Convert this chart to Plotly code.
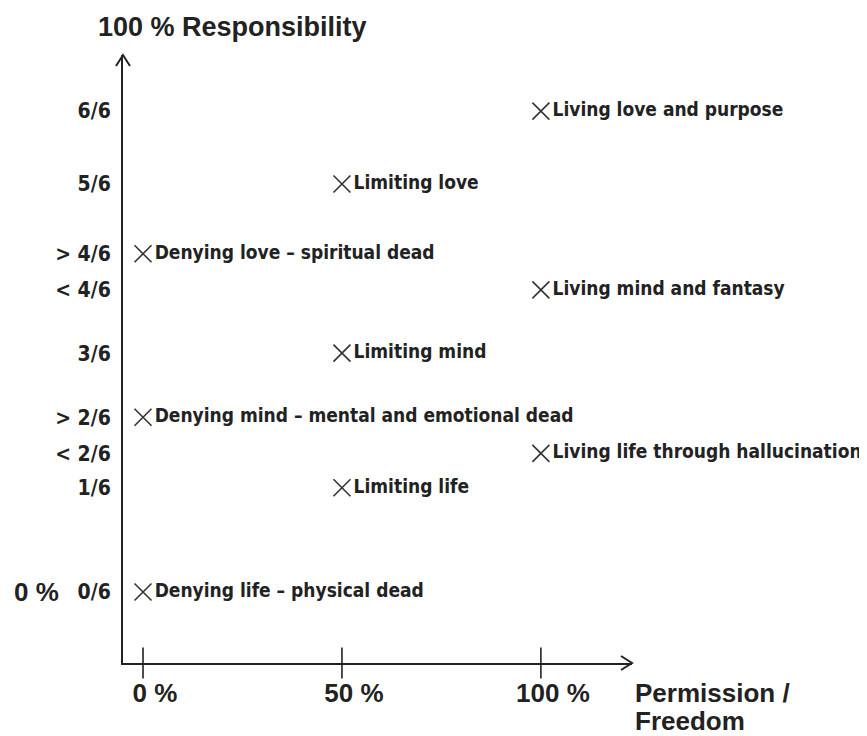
import plotly.graph_objects as go

# Data
x_levels = [0, 50, 100]
x_tick_labels = ["0 %", "50 %", "100 %"]
y_positions = [0.0, 1.30, 1.73, 2.18, 2.98, 3.77, 4.22, 5.09, 6.0]
y_tick_labels = ["0/6", "1/6", "< 2/6", "> 2/6", "3/6", "< 4/6", "> 4/6", "5/6", "6/6"]

point_x = [0, 50, 100, 0, 50, 100, 0, 50, 100]
point_y = [0.0, 1.30, 1.73, 2.18, 2.98, 3.77, 4.22, 5.09, 6.0]
point_labels = [
    "Denying life \u2013 physical dead",
    "Limiting life",
    "Living life through hallucination",
    "Denying mind \u2013 mental and emotional dead",
    "Limiting mind",
    "Living mind and fantasy",
    "Denying love \u2013 spiritual dead",
    "Limiting love",
    "Living love and purpose",
]

X_RANGE = [-5.03, 122.9]
Y_RANGE = [-0.886, 6.70]

NARROW = "DejaVu Sans Condensed, DejaVu Sans, sans-serif"
SANS = "Liberation Sans, Arial, sans-serif"
INK = "#222222"

fig = go.Figure()

fig.add_trace(go.Scatter(
    x=point_x, y=point_y, mode="markers+text",
    text=point_labels, textposition="middle right",
    textfont=dict(family=NARROW, size=19, color=INK, weight="bold"),
    marker=dict(symbol="x-thin", size=17, line=dict(width=1.6, color="#333333")),
    hoverinfo="skip", showlegend=False, cliponaxis=False,
))

# tick marks crossing the x axis
fig.add_trace(go.Scatter(
    x=x_levels, y=[Y_RANGE[0]] * len(x_levels), mode="markers",
    marker=dict(symbol="line-ns", size=22, line=dict(width=1.6, color=INK)),
    hoverinfo="skip", showlegend=False, cliponaxis=False,
))

fig.update_layout(
    width=867, height=736,
    margin=dict(l=115, r=243, t=47, b=81),
    paper_bgcolor="white", plot_bgcolor="white",
    xaxis=dict(
        range=X_RANGE, showgrid=False, zeroline=False, automargin=False,
        showline=True, linewidth=2, linecolor=INK,
        tickvals=x_levels, ticktext=x_tick_labels, ticks="",
        ticklabelstandoff=6, ticklabelshift=12,
        tickfont=dict(family=SANS, size=26, color=INK, weight="bold"),
    ),
    yaxis=dict(
        range=Y_RANGE, showgrid=False, zeroline=False, automargin=False,
        showline=True, linewidth=2, linecolor=INK,
        tickvals=y_positions, ticktext=y_tick_labels, ticks="",
        ticklabelstandoff=6,
        tickfont=dict(family=NARROW, size=21, color=INK, weight="bold"),
    ),
    shapes=[
        dict(type="path", xref="paper", yref="paper", xsizemode="pixel", ysizemode="pixel",
             xanchor=1, yanchor=0, path="M -11,7 L 0,0 L -11,-7",
             line=dict(color=INK, width=2)),
        dict(type="path", xref="paper", yref="paper", xsizemode="pixel", ysizemode="pixel",
             xanchor=0, yanchor=1, path="M -7,-11 L 0,0 L 7,-11",
             line=dict(color=INK, width=2)),
    ],
    annotations=[
        dict(text="100 % Responsibility", xref="paper", yref="paper", x=0, y=1,
             xanchor="left", yanchor="middle", xshift=-27, yshift=28, showarrow=False,
             font=dict(family=SANS, size=27, color=INK, weight="bold")),
        dict(text="Permission /", xref="paper", yref="paper", x=1, y=0,
             xanchor="left", yanchor="middle", xshift=1, yshift=-30, showarrow=False,
             font=dict(family=SANS, size=26, color=INK, weight="bold")),
        dict(text="Freedom", xref="paper", yref="paper", x=1, y=0,
             xanchor="left", yanchor="middle", xshift=1, yshift=-58, showarrow=False,
             font=dict(family=SANS, size=26, color=INK, weight="bold")),
        dict(text="0 %", xref="paper", yref="y", x=0, y=y_positions[0],
             xanchor="left", yanchor="middle", xshift=-111, showarrow=False,
             font=dict(family=SANS, size=26, color=INK, weight="bold")),
    ],
)

fig.write_html("out.html")
